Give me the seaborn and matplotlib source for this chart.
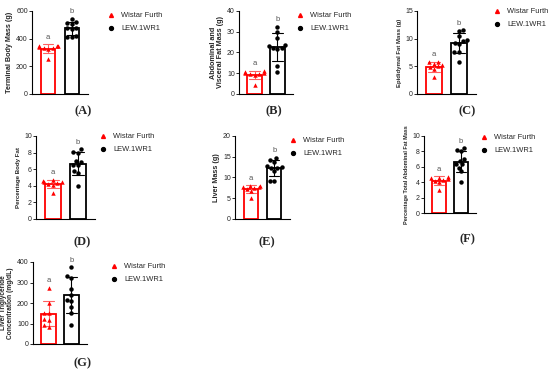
import numpy as np
import pandas as pd
import matplotlib
matplotlib.use("Agg")
import matplotlib.pyplot as plt
import matplotlib.colors as mcolors
import seaborn as sns
from matplotlib.lines import Line2D

# Strains / colours
strains = ["Wistar Furth", "LEW.1WR1"]
colors = {"Wistar Furth": "#ff0000", "LEW.1WR1": "#000000"}
sig_letters = ["a", "b"]

# (A) terminal body mass (g)
body_wf = [350, 345, 340, 335, 330, 325, 250, 345]
body_lew = [545, 520, 510, 505, 480, 475, 470, 420, 415, 410]
# (B) abdominal and visceral fat mass (g)
visc_wf = [11, 10.5, 10, 10, 9.5, 9, 4.5, 9.5]
visc_lew = [32.5, 30, 27, 23.5, 23, 22, 22, 21.5, 13.5, 10.5]
# (C) epididymal fat mass (g)
epi_wf = [5.8, 5.7, 5.5, 5.2, 5.0, 4.8, 4.5, 3.0]
epi_lew = [11.5, 11.3, 10.5, 9.7, 9.5, 9.3, 9.0, 7.5, 7.5, 5.7]
# (D) percentage body fat
pbf_wf = [4.7, 4.6, 4.5, 4.4, 4.3, 4.2, 4.1, 3.1]
pbf_lew = [8.4, 8.1, 8.0, 7.0, 6.9, 6.5, 6.5, 5.8, 5.5, 4.0]
# (E) liver mass (g)
liver_wf = [8.0, 7.9, 7.8, 7.6, 7.5, 7.2, 6.8, 5.1]
liver_lew = [14.8, 14.2, 13.8, 12.8, 12.5, 12.3, 12.2, 11.5, 9.2, 9.1]
# (F) percentage total abdominal fat mass
pab_wf = [4.7, 4.6, 4.5, 4.4, 4.3, 4.2, 4.0, 3.0]
pab_lew = [8.4, 8.2, 8.0, 7.0, 6.8, 6.4, 6.3, 5.9, 5.4, 4.0]
# (G) liver triglyceride concentration (mg/dL)
tg_wf = [275, 200, 150, 150, 120, 115, 95, 85]
tg_lew = [375, 330, 320, 270, 240, 215, 210, 180, 150, 95]

W, H = 550, 373

# letter, ylabel, wf, lew, yticks, axes px (left, right, top, bottom), legend px (x, y), label px (x, y), ylabel size
panels = [
    ("(A)", "Terminal Body Mass (g)", body_wf, body_lew, [0, 200, 400, 600],
     (32, 88, 11, 94), (107, 12), (83, 111), 5.2),
    ("(B)", "Abdominal and\nVisceral Fat Mass (g)", visc_wf, visc_lew, [0, 10, 20, 30, 40],
     (239, 293, 11, 94), (296, 12), (274, 111), 5.2),
    ("(C)", "Epididymal Fat Mass (g)", epi_wf, epi_lew, [0, 5, 10, 15],
     (417, 476, 11, 94), (493, 8), (467, 111), 4.3),
    ("(D)", "Percentage Body Fat", pbf_wf, pbf_lew, [0, 2, 4, 6, 8, 10],
     (36, 95, 136, 219), (99, 133), (82, 242), 4.4),
    ("(E)", "Liver Mass (g)", liver_wf, liver_lew, [0, 5, 10, 15, 20],
     (235, 290, 136, 219), (289, 137), (267, 242), 5.2),
    ("(F)", "Percentage Total Abdominal Fat Mass", pab_wf, pab_lew, [0, 2, 4, 6, 8, 10],
     (424, 476, 136, 213), (480, 134), (467, 239), 4.0),
    ("(G)", "Liver Triglyceride\nConcentration (mg/dL)", tg_wf, tg_lew, [0, 100, 200, 300, 400],
     (33, 87, 262, 344), (110, 263), (83, 363), 4.8),
]

sns.set_style("ticks")
plt.rcParams["font.family"] = ["Liberation Sans", "DejaVu Sans"]

fig = plt.figure(figsize=(W / 100, H / 100), dpi=100)

for letter, ylabel, wf, lew, yticks, (l, r, t, b), (lx, ly), (px, py), ysz in panels:
    ax = fig.add_axes([l / W, 1 - b / H, (r - l) / W, (b - t) / H])
    df = pd.DataFrame({
        "strain": [strains[0]] * len(wf) + [strains[1]] * len(lew),
        "value": list(wf) + list(lew),
    })
    sns.barplot(data=df, x="strain", y="value", hue="strain", order=strains,
                palette=colors, fill=False, errorbar="sd", capsize=0.45,
                width=0.62, linewidth=1.3, err_kws={"linewidth": 0.8},
                legend=False, ax=ax)
    # lighter red for the Wistar Furth error bar
    for ln in ax.lines:
        if mcolors.to_hex(ln.get_color()) == "#ff0000":
            ln.set_color("#ff6060")
    sns.swarmplot(data=df[df.strain == strains[0]], x="strain", y="value",
                  order=strains, color=colors[strains[0]], marker="^", size=3.2,
                  ax=ax)
    sns.swarmplot(data=df[df.strain == strains[1]], x="strain", y="value",
                  order=strains, color=colors[strains[1]], marker="o", size=3.2,
                  ax=ax)
    ymax = yticks[-1]
    for i, vals in enumerate([wf, lew]):
        top = max(np.mean(vals) + np.std(vals, ddof=1), max(vals))
        ax.text(i, top + 0.04 * ymax, sig_letters[i], ha="center", va="bottom",
                fontsize=5.5, color="#555555")
    ax.set_xlim(-0.68, 1.68)
    ax.set_ylim(0, ymax)
    ax.set_yticks(yticks)
    ax.set_xticks([])
    ax.set_xlabel("")
    ax.set_ylabel(ylabel, fontsize=ysz, fontweight="bold", labelpad=2, linespacing=1.1)
    ax.tick_params(axis="y", labelsize=5, length=2, width=0.7, pad=1)
    for s in ["left", "bottom"]:
        ax.spines[s].set_linewidth(0.8)
        ax.spines[s].set_color("black")
    sns.despine(ax=ax)

    handles = [
        Line2D([], [], marker="^", color=colors[strains[0]], linestyle="", markersize=2.8),
        Line2D([], [], marker="o", color=colors[strains[1]], linestyle="", markersize=2.8),
    ]
    fig.legend(handles=handles, labels=strains, loc="upper left",
               bbox_to_anchor=(lx / W, 1 - ly / H), bbox_transform=fig.transFigure,
               frameon=False, fontsize=5.4, borderpad=0, handlelength=1,
               handletextpad=0.9, labelspacing=0.75, borderaxespad=0)

    fig.text(px / W, 1 - py / H, letter, ha="center", va="center",
             fontsize=9, fontweight="bold", family=["Liberation Serif", "DejaVu Serif"])

fig.savefig("out.png", dpi=100, facecolor="white")
